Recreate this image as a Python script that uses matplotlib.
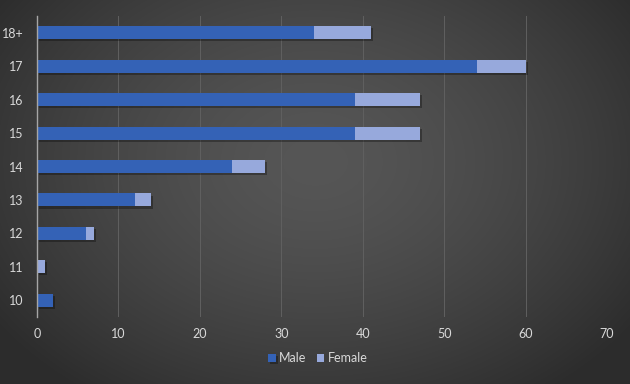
import numpy as np
import matplotlib
matplotlib.use("Agg")
import matplotlib.pyplot as plt
import matplotlib.patheffects as pe

plt.rcParams["font.family"] = ["Lato", "DejaVu Sans"]

categories = ["10", "11", "12", "13", "14", "15", "16", "17", "18+"]
male = [2, 0, 6, 12, 24, 39, 39, 54, 34]
female = [0, 1, 1, 2, 4, 8, 8, 6, 7]
xticks = [0, 10, 20, 30, 40, 50, 60, 70]

W, H = 630, 384
fig = plt.figure(figsize=(W / 100, H / 100), dpi=100)

# radial gradient background
bg = fig.add_axes([0, 0, 1, 1], zorder=-10)
yy, xx = np.mgrid[0:H, 0:W]
r = np.sqrt(((xx - W * 0.5) / (W * 0.62)) ** 2 + ((yy - H * 0.42) / (H * 0.75)) ** 2)
r = np.clip(r, 0, 1)
c0, c1 = 0x56 / 255, 0x2c / 255
val = c0 + (c1 - c0) * r ** 1.5
img = np.dstack([val, val, val])
bg.imshow(img, aspect="auto", extent=[0, 1, 0, 1])
bg.axis("off")

ax = fig.add_axes([37 / W, 1 - 317 / H, (607 - 37) / W, (317 - 16) / H])
ax.set_facecolor("none")
y = np.arange(len(categories))
h = 0.39
shadow = [pe.SimplePatchShadow(offset=(1.5, -1.5), shadow_rgbFace="black", alpha=0.3), pe.Normal()]
bm = ax.barh(y, male, height=h, color="#3462b6", label="Male", zorder=3)
bf = ax.barh(y, female, left=male, height=h, color="#97a9dc", label="Female", zorder=3)
for b in list(bm) + list(bf):
    if b.get_width() > 0:
        b.set_path_effects(shadow)

ax.set_xlim(0, 70)
ax.set_ylim(-0.5, 8.5)
ax.set_xticks(xticks)
ax.set_yticks(y)
ax.set_yticklabels(categories)
ax.grid(axis="x", color="#606060", linewidth=0.7, zorder=0)
for s in ["top", "right", "bottom"]:
    ax.spines[s].set_visible(False)
ax.spines["left"].set_color("#a6a6a6")
ax.spines["left"].set_linewidth(1.0)
ax.spines["left"].set_zorder(4)
ax.tick_params(axis="both", length=0, colors="#d9d9d9", labelsize=9)
ax.tick_params(axis="x", pad=8)
ax.tick_params(axis="y", pad=10)

leg = fig.legend(handles=[bm, bf], labels=["Male", "Female"], loc="center",
                 bbox_to_anchor=(318 / W, 1 - 358 / H), ncol=2, frameon=False,
                 fontsize=9, handlelength=0.6, handleheight=0.6, handletextpad=0.3,
                 columnspacing=0.8)
for t in leg.get_texts():
    t.set_color("#d9d9d9")

fig.savefig("out.png", dpi=100)
